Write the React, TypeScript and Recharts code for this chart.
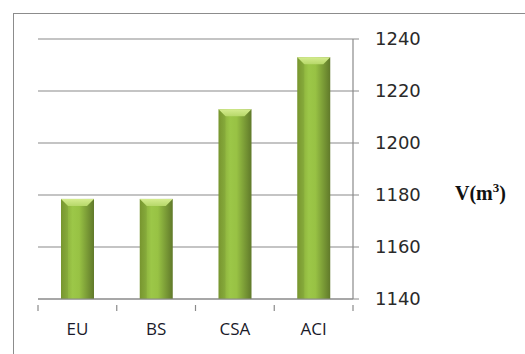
import React from 'react'
import { BarChart, Bar, XAxis, YAxis, CartesianGrid, Label } from 'recharts'

const methods = ['EU', 'BS', 'CSA', 'ACI']
const volumes = [1178.5, 1178.5, 1213, 1233]
const yTicks = [1140, 1160, 1180, 1200, 1220, 1240]

const data = methods.map((m, i) => ({ name: m, value: volumes[i] }))

const BevelBar = (props: any) => {
  const { x, y, width, height } = props
  if (!height || height <= 0) return null
  const b = 7
  return (
    <g>
      <rect x={x} y={y} width={width} height={height} fill="url(#barGrad)" />
      <polygon
        points={`${x},${y} ${x + width},${y} ${x + width - b},${y + b} ${x + b},${y + b}`}
        fill="url(#bevelGrad)"
      />
      <polygon points={`${x},${y} ${x + b},${y + b} ${x + b},${y + height} ${x},${y + height}`} fill="#000" opacity={0.06} />
    </g>
  )
}

// category tick: label at the centre, tick marks at the band edges
const CatTick = (props: any) => {
  const { x, y, payload, index, visibleTicksCount } = props
  const half = payload && payload.offset ? payload.offset : 39.375
  const top = y - 18
  const last = index === (visibleTicksCount ?? methods.length) - 1
  return (
    <g>
      <line x1={x - half} x2={x - half} y1={top} y2={top + 6} stroke="#8a8a8a" strokeWidth={1.2} />
      {last && <line x1={x + half} x2={x + half} y1={top} y2={top + 6} stroke="#8a8a8a" strokeWidth={1.2} />}
      <text x={x} y={y} dy="0.71em" textAnchor="middle" fontSize={17} fill="#1a1a2a" fontFamily="'Open Sans', sans-serif">
        {payload.value}
      </text>
    </g>
  )
}

const VolumeLabel = (props: any) => {
  const vb = props.viewBox || {}
  return (
    <text
      x={vb.x + vb.width + 2}
      y={vb.y + vb.height * 0.62}
      fontFamily="'Liberation Serif', 'DejaVu Serif', serif"
      fontWeight="bold"
      fontSize={20}
      fill="#111"
    >
      V(m<tspan dy={-8} fontSize={13}>3</tspan><tspan dy={8}>)</tspan>
    </text>
  )
}

export default function App() {
  return (
    <div style={{ position: 'absolute', left: 0, top: 0, width: 525, height: 354, background: '#fff', overflow: 'hidden' }}>
      <div style={{ position: 'absolute', left: 13, top: 13, width: 540, height: 360, border: '1px solid #8c8c8c' }} />
      <BarChart
        width={525}
        height={354}
        data={data}
        margin={{ top: 39, left: 38, right: 72, bottom: 25 }}
        style={{ position: 'absolute', left: 0, top: 0 }}
      >
        <defs>
          <linearGradient id="barGrad" x1="0" y1="0" x2="1" y2="0">
            <stop offset="0%" stopColor="#7f9f33" />
            <stop offset="35%" stopColor="#9cc748" />
            <stop offset="55%" stopColor="#98c244" />
            <stop offset="100%" stopColor="#60792a" />
          </linearGradient>
          <linearGradient id="bevelGrad" x1="0" y1="0" x2="0" y2="1">
            <stop offset="0%" stopColor="#d5ec8f" />
            <stop offset="100%" stopColor="#b7d86a" />
          </linearGradient>
        </defs>
        <CartesianGrid horizontal vertical={false} stroke="#8a8a8a" strokeWidth={1.2} />
        <XAxis
          dataKey="name"
          axisLine={{ stroke: '#8a8a8a', strokeWidth: 1.2 }}
          tickLine={false}
          height={30}
          tickMargin={18}
          tick={<CatTick />}
        />
        <YAxis
          orientation="right"
          domain={[1140, 1240]}
          ticks={yTicks}
          width={100}
          tickSize={6}
          tickMargin={16}
          axisLine={{ stroke: '#8a8a8a', strokeWidth: 1.2 }}
          tickLine={{ stroke: '#8a8a8a' }}
          tick={{ fontSize: 18, fill: '#2a2a2a', fontFamily: "'DejaVu Sans', sans-serif", textAnchor: 'start' }}
        >
          <Label content={<VolumeLabel />} />
        </YAxis>
        <Bar dataKey="value" barSize={33} shape={<BevelBar />} isAnimationActive={false} />
      </BarChart>
    </div>
  )
}
